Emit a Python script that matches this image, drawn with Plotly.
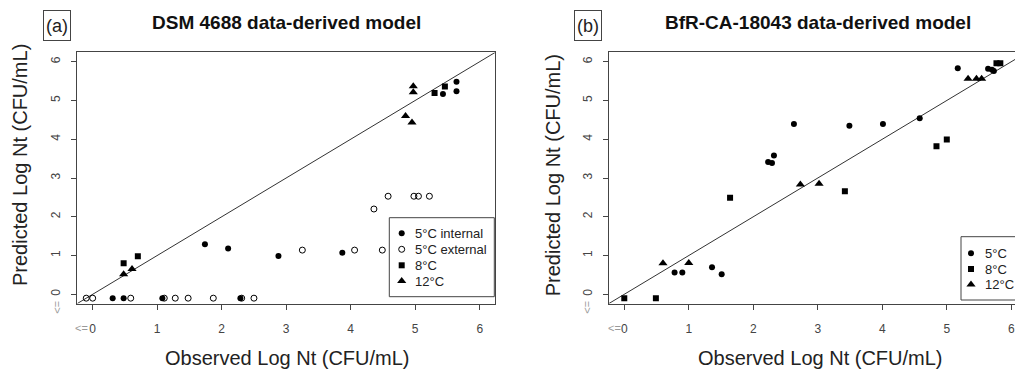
import plotly.graph_objects as go

# ---------------- data ----------------
# Panel (a): DSM 4688 data-derived model
a_int_x = [0.31, 0.48, 1.08, 2.29, 1.74, 2.10, 2.88, 3.87, 5.43, 5.64, 5.64]
a_int_y = [-0.1, -0.1, -0.1, -0.1, 1.29, 1.18, 0.99, 1.07, 5.17, 5.48, 5.24]
a_ext_x = [-0.10, 0.0, 0.59, 1.11, 1.28, 1.48, 1.87, 2.31, 2.50, 3.25, 4.06, 4.49, 4.36, 4.58, 4.98, 5.05, 5.22]
a_ext_y = [-0.1, -0.1, -0.1, -0.1, -0.1, -0.1, -0.1, -0.1, -0.1, 1.14, 1.14, 1.14, 2.20, 2.53, 2.53, 2.53, 2.53]
a_8_x = [0.48, 0.70, 5.30, 5.46]
a_8_y = [0.80, 0.98, 5.19, 5.36]
a_12_x = [0.48, 0.61, 4.97, 4.97, 4.85, 4.95]
a_12_y = [0.52, 0.65, 5.37, 5.21, 4.60, 4.43]

# Panel (b): BfR-CA-18043 data-derived model
b_5_x = [0.78, 0.90, 1.36, 1.51, 2.23, 2.29, 2.32, 2.63, 3.49, 4.01, 4.58, 5.17, 5.64, 5.70, 5.73]
b_5_y = [0.56, 0.56, 0.70, 0.52, 3.41, 3.39, 3.58, 4.39, 4.35, 4.39, 4.54, 5.83, 5.82, 5.79, 5.76]
b_8_x = [0.0, 0.49, 1.64, 3.42, 4.84, 5.00, 5.77, 5.83]
b_8_y = [-0.1, -0.1, 2.49, 2.66, 3.82, 3.99, 5.96, 5.96]
b_12_x = [0.60, 1.00, 2.73, 3.02, 5.33, 5.46, 5.54]
b_12_y = [0.80, 0.81, 2.83, 2.85, 5.56, 5.56, 5.56]

tick_vals = [0, 1, 2, 3, 4, 5, 6]
tick_text = ["0", "1", "2", "3", "4", "5", "6"]
legend_a = ["5°C internal", "5°C external", "8°C", "12°C"]
legend_b = ["5°C", "8°C", "12°C"]
titles = ["DSM 4688 data-derived model", "BfR-CA-18043 data-derived model"]
panel_tags = ["(a)", "(b)"]
x_title = "Observed Log Nt (CFU/mL)"
y_title = "Predicted Log Nt (CFU/mL)"

# ---------------- layout constants (pixels) ----------------
W, H = 1015, 370
FONT = "Liberation Sans, Arial, Helvetica, sans-serif"
AXC = "#444"


def fx(p):
    return p / W


def fy(p):
    return 1 - p / H


XA_DOM = [fx(77.2), fx(495.2)]
XB_DOM = [fx(608.8), 1.0]
Y_DOM = [fy(303.6), fy(52.4)]
RANGE = [-0.24, 6.24]
XB_RANGE = [-0.24, (W - 624.3) / 64.5]

MK = {
    "int": dict(symbol="circle", size=6, color="black"),
    "ext": dict(symbol="circle-open", size=6, color="black", line=dict(width=1, color="black")),
    "sq": dict(symbol="square", size=6, color="black"),
    "tri": dict(symbol="triangle-up", size=8, color="black"),
}

fig = go.Figure()


def pts(x, y, mk, xa, ya):
    fig.add_trace(go.Scatter(x=x, y=y, mode="markers", marker=MK[mk], xaxis=xa, yaxis=ya,
                             showlegend=False, hoverinfo="x+y"))


# identity lines
fig.add_trace(go.Scatter(x=RANGE, y=RANGE, mode="lines", line=dict(color="#333", width=1),
                         xaxis="x", yaxis="y", showlegend=False, hoverinfo="skip"))
fig.add_trace(go.Scatter(x=RANGE, y=RANGE, mode="lines", line=dict(color="#333", width=1),
                         xaxis="x2", yaxis="y2", showlegend=False, hoverinfo="skip"))

pts(a_int_x, a_int_y, "int", "x", "y")
pts(a_ext_x, a_ext_y, "ext", "x", "y")
pts(a_8_x, a_8_y, "sq", "x", "y")
pts(a_12_x, a_12_y, "tri", "x", "y")

pts(b_5_x, b_5_y, "int", "x2", "y2")
pts(b_8_x, b_8_y, "sq", "x2", "y2")
pts(b_12_x, b_12_y, "tri", "x2", "y2")

# ---------------- legends (drawn on a full-figure pixel overlay) ----------------
shapes = []
annotations = []


def draw_legend(box, mx, tx, rows, labels, keys):
    x0, y0, x1, y1 = box
    shapes.append(dict(type="rect", xref="paper", yref="paper", x0=fx(x0), x1=fx(x1),
                       y0=fy(y1), y1=fy(y0), line=dict(color=AXC, width=1),
                       fillcolor="white", layer="below"))
    for ry, lab, k in zip(rows, labels, keys):
        fig.add_trace(go.Scatter(x=[mx], y=[ry], mode="markers", marker=MK[k], xaxis="x3",
                                 yaxis="y3", showlegend=False, hoverinfo="skip"))
        annotations.append(dict(x=fx(tx), y=fy(ry), xref="paper", yref="paper", text=lab,
                                showarrow=False, xanchor="left", yanchor="middle",
                                font=dict(family=FONT, size=13, color="#222")))


draw_legend((389.3, 217.7, 494.3, 296.7), 401.7, 412.5, [233.3, 249.3, 265.3, 281.0],
            legend_a, ["int", "ext", "sq", "tri"])
draw_legend((961.0, 236.7, 1060, 300.0), 971.0, 982.5, [253.3, 269.0, 284.5],
            legend_b, ["int", "sq", "tri"])

# ---------------- texts ----------------
for cx, t in zip([286, 818], titles):
    annotations.append(dict(x=fx(cx), y=fy(22), xref="paper", yref="paper", text="<b>%s</b>" % t,
                            showarrow=False, xanchor="center", yanchor="middle",
                            font=dict(family=FONT, size=19, color="#111")))
for cx, t in zip([56.5, 588.2], panel_tags):
    annotations.append(dict(x=fx(cx), y=fy(25.2), xref="paper", yref="paper", text=t,
                            showarrow=False, xanchor="center", yanchor="middle",
                            width=26, height=29, borderpad=0, bordercolor=AXC, borderwidth=1,
                            font=dict(family=FONT, size=18, color="#222")))
for cx in [287, 820]:
    annotations.append(dict(x=fx(cx), y=fy(358), xref="paper", yref="paper", text=x_title,
                            showarrow=False, xanchor="center", yanchor="middle",
                            font=dict(family=FONT, size=20, color="#222")))
for cx, cy in [(20, 165), (553.3, 175)]:
    annotations.append(dict(x=fx(cx), y=fy(cy), xref="paper", yref="paper", text=y_title,
                            showarrow=False, xanchor="center", yanchor="middle", textangle=-90,
                            font=dict(family=FONT, size=20, color="#222")))
# "<=" marks next to the zero ticks
for cx in [81.7, 614.0]:
    annotations.append(dict(x=fx(cx), y=fy(328.3), xref="paper", yref="paper", text="&lt;=",
                            showarrow=False, xanchor="center", yanchor="middle",
                            font=dict(family=FONT, size=11, color="#999")))
for cx in [56.7, 586.7]:
    annotations.append(dict(x=fx(cx), y=fy(307), xref="paper", yref="paper", text="&lt;=",
                            showarrow=False, xanchor="center", yanchor="middle", textangle=-90,
                            font=dict(family=FONT, size=11, color="#999")))

common = dict(showgrid=False, zeroline=False, showline=True, linecolor=AXC, linewidth=1,
              ticks="outside", ticklen=5, tickcolor=AXC, tickwidth=1,
              tickvals=tick_vals, ticktext=tick_text, fixedrange=True,
              tickfont=dict(family=FONT, size=12, color="#444"))

fig.update_layout(
    width=W, height=H, margin=dict(l=0, r=0, t=0, b=0, autoexpand=False),
    paper_bgcolor="white", plot_bgcolor="rgba(0,0,0,0)",
    showlegend=False,
    xaxis=dict(domain=XA_DOM, range=RANGE, anchor="y", mirror=True, ticklabelstandoff=9, **common),
    yaxis=dict(domain=Y_DOM, range=RANGE, anchor="x", mirror=True, tickangle=-90,
               ticklabelstandoff=6, **common),
    xaxis2=dict(domain=XB_DOM, range=XB_RANGE, anchor="y2", mirror=True, ticklabelstandoff=9, **common),
    yaxis2=dict(domain=Y_DOM, range=RANGE, anchor="x2", mirror=False, tickangle=-90,
                ticklabelstandoff=6, **common),
    xaxis3=dict(domain=[0, 1], range=[0, W], anchor="y3", visible=False, fixedrange=True),
    yaxis3=dict(domain=[0, 1], range=[H, 0], anchor="x3", visible=False, fixedrange=True),
    shapes=shapes, annotations=annotations,
)

fig.write_html("out.html", config={"displayModeBar": False},
               post_script="document.body.style.margin='0';")
